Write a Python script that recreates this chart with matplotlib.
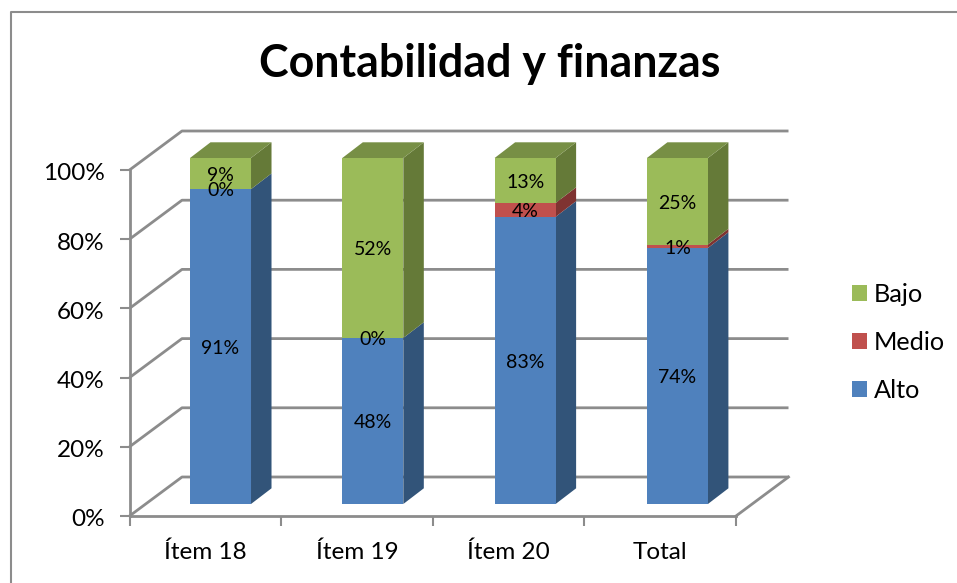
import numpy as np
import matplotlib
matplotlib.use('Agg')
import matplotlib.pyplot as plt
from matplotlib.patches import Polygon
from matplotlib.transforms import ScaledTranslation

plt.rcParams['font.family'] = ['Lato', 'DejaVu Sans']

categories = ['Ítem 18', 'Ítem 19', 'Ítem 20', 'Total']
alto = [91, 48, 83, 74]
medio = [0, 0, 4, 1]
bajo = [9, 52, 13, 25]
y_ticks = [0, 20, 40, 60, 80, 100]

W, H = 957, 583
GREY = '#8c8c8c'

fig = plt.figure(figsize=(W / 100, H / 100), dpi=100)
# front plane of the 3d box, in pixels
left, right, bottom, top = 129.5, 736, 516, 170
ax = fig.add_axes([left / W, 1 - bottom / H, (right - left) / W, (bottom - top) / H])
ax.set_xlim(0, 4)
ax.set_ylim(0, 100)
ax.patch.set_alpha(0)

# px to data units
ux = (right - left) / 4
uy = (bottom - top) / 100
wall_dx, wall_dy = 52.5 / ux, 39 / uy
bar_dx, bar_dy = 15.2 / ux, 12 / uy
side_dx, side_dy = 20.5 / ux, 15.7 / uy
bar_w = 61 / ux
bar_step = 152.3 / ux
label_drop = 1.8 / uy

# back wall and floor
for t in y_ticks:
    ax.plot([0, wall_dx, 4 + wall_dx], [t, t + wall_dy, t + wall_dy], color=GREY, lw=2,
            clip_on=False, zorder=1, solid_capstyle='butt')
ax.plot([4, 4 + wall_dx], [0, wall_dy], color=GREY, lw=2, clip_on=False, zorder=1)

x = np.arange(len(categories)) + 0.5
bar_x = 0.5 + np.arange(len(categories)) * bar_step + bar_dx
series = [('Alto', alto, '#4f81bd', '#325479'),
          ('Medio', medio, '#c0504d', '#7f3331'),
          ('Bajo', bajo, '#9bbb59', '#657a38')]

base = np.zeros(len(categories))
handles = []
for name, values, col, dark in series:
    values = np.array(values, dtype=float)
    bars = ax.bar(bar_x, values, bar_w, bottom=base + bar_dy, color=col, label=name,
                  clip_on=False, zorder=3)
    handles.append(bars)
    for xi, b, v in zip(bar_x, base, values):
        xr = xi + bar_w / 2
        y0 = b + bar_dy
        side = Polygon([(xr, y0), (xr + side_dx, y0 + side_dy),
                        (xr + side_dx, y0 + v + side_dy), (xr, y0 + v)],
                       facecolor=dark, edgecolor='none', clip_on=False, zorder=2.5)
        ax.add_patch(side)
        ax.text(xi, y0 + v / 2 - label_drop, f'{v:.0f}%', ha='center', va='center',
                fontsize=14, color='black', zorder=5, clip_on=False)
    base = base + values

# top of each column
for xi, b in zip(bar_x, base):
    xl = xi - bar_w / 2
    xr = xi + bar_w / 2
    y0 = b + bar_dy
    ax.add_patch(Polygon([(xl, y0), (xr, y0), (xr + side_dx, y0 + side_dy), (xl + side_dx, y0 + side_dy)],
                         facecolor='#778f45', edgecolor='none', clip_on=False, zorder=2.6))

for s in ['top', 'right']:
    ax.spines[s].set_visible(False)
for s in ['left', 'bottom']:
    ax.spines[s].set_color(GREY)
    ax.spines[s].set_linewidth(2)

ax.set_xticks(range(5))
ax.set_xticklabels([])
ax.set_xticks(x, minor=True)
ax.set_xticklabels(categories, minor=True, fontsize=17.5)
ax.tick_params(axis='x', which='major', length=7, width=1.5, color=GREY, direction='out')
ax.tick_params(axis='x', which='minor', length=0, pad=18.6)
ax.set_yticks(y_ticks)
ax.set_yticklabels([f'{t}%' for t in y_ticks], fontsize=17.5, va='center_baseline')
ax.tick_params(axis='y', length=7, width=1.5, color=GREY, direction='out', pad=11)
# y labels sit a little below their ticks
for lab in ax.get_yticklabels():
    lab.set_transform(lab.get_transform() + ScaledTranslation(0, -0.02, fig.dpi_scale_trans))

fig.text(490 / W, 1 - 64 / H, 'Contabilidad y finanzas', fontsize=32.2, fontweight='bold',
         ha='center', va='center')

ax.legend(handles[::-1], [h.get_label() for h in handles[::-1]], loc='center left',
          bbox_to_anchor=(852 / W, 1 - 342.5 / H), bbox_transform=fig.transFigure,
          frameon=False, fontsize=18.2, handlelength=0.6, handleheight=0.6, handletextpad=0.25,
          labelspacing=1.0, borderpad=0, borderaxespad=0)

# chart area border
fig.add_artist(plt.Line2D([10.5 / W, 10.5 / W, 1], [0, 1 - 12 / H, 1 - 12 / H], color=GREY, lw=1.5))

fig.savefig('out.png', dpi=100)
